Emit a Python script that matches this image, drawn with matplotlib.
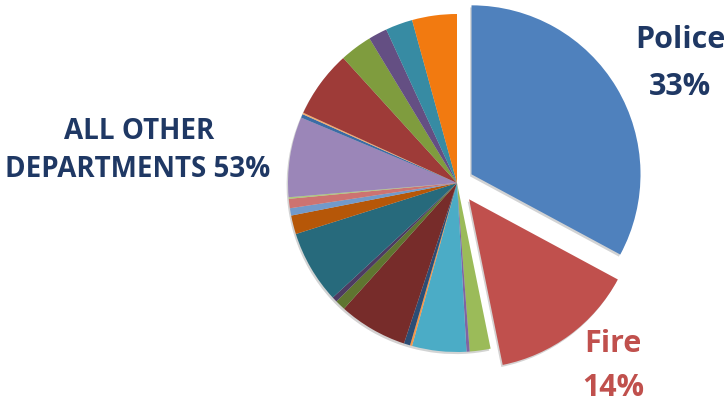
import matplotlib
matplotlib.use("Agg")
import matplotlib.pyplot as plt

# department shares of the budget, clockwise from 12 o'clock
departments = ["Police", "Fire",
               "d3", "d4", "d5", "d6", "d7", "d8", "d9", "d10", "d11", "d12",
               "d13", "d14", "d15", "d16", "d17", "d18", "d19", "d20", "d21",
               "d22", "d23"]
shares = [33, 14,
          2.0, 0.3, 5.2, 0.2, 0.6, 6.6, 1.0, 0.5, 7.0, 1.8,
          0.7, 0.9, 0.15, 7.7, 0.35, 0.15, 6.45, 3.1, 1.8,
          2.6, 4.3]
colors = ["#4F81BD", "#C0504D",
          "#9BBB59", "#8064A2", "#4BACC6", "#F79646", "#2C4D75", "#772C2A",
          "#5F7530", "#4D3B62", "#276A7C", "#B65708", "#729ACA", "#CD7371",
          "#AFC97A", "#9B86B8", "#3B6CA5", "#F9AB6B", "#9E3B38", "#7F9C3E",
          "#644F83", "#378BA3", "#F27A10"]

W, H = 727, 402
fig = plt.figure(figsize=(W / 100, H / 100), dpi=100)
ax = fig.add_axes([0, 0, 1, 1])

cx, cy, r = 457, H - 184, 169
# pull Police and Fire out of the pie (offsets are in data units)
explode = [0.1 * r, 0.12 * r] + [0] * (len(shares) - 2)

ax.pie(shares, colors=colors, explode=explode, startangle=90, counterclock=False,
       center=(cx, cy), radius=r, wedgeprops=dict(linewidth=0), frame=True,
       shadow=dict(ox=-1.0, oy=-1.5, shade=0.9, alpha=0.18))

font = "Open Sans"
navy = "#1F3864"
red = "#C0504D"
big = 22
ax.text(680, H - 48, "Police", ha="center", va="baseline", fontsize=big,
        fontweight="bold", color=navy, family=font)
ax.text(680, H - 95, "33%", ha="center", va="baseline", fontsize=big,
        fontweight="bold", color=navy, family=font)
ax.text(613, H - 352, "Fire", ha="center", va="baseline", fontsize=big,
        fontweight="bold", color=red, family=font)
ax.text(613, H - 396, "14%", ha="center", va="baseline", fontsize=big,
        fontweight="bold", color=red, family=font)
ax.text(139, H - 139, "ALL OTHER", ha="center", va="baseline", fontsize=20,
        fontweight="bold", color=navy, family=font)
ax.text(138, H - 177, "DEPARTMENTS 53%", ha="center", va="baseline", fontsize=20,
        fontweight="bold", color=navy, family=font)

ax.set_xlim(0, W)
ax.set_ylim(0, H)
ax.set_aspect("equal")
ax.axis("off")

fig.savefig("out.png", dpi=100)
